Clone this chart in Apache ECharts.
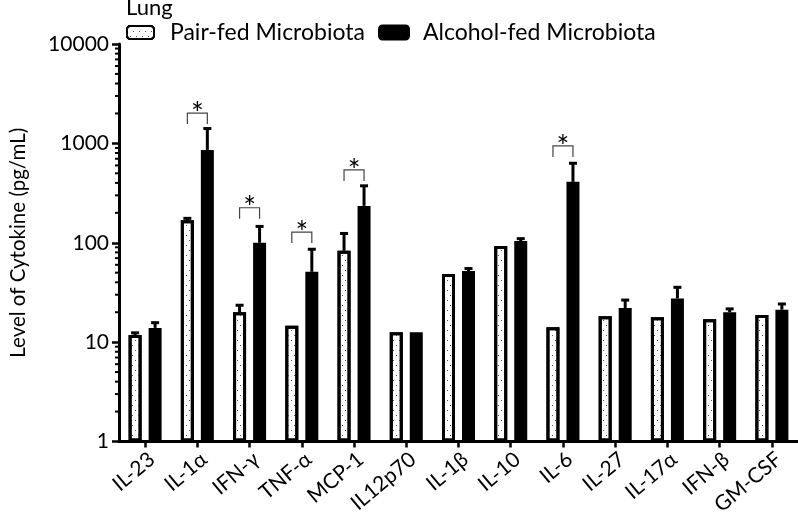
<!DOCTYPE html>
<html>
<head>
<meta charset="utf-8">
<script src="https://cdn.jsdelivr.net/npm/echarts@6/dist/echarts.min.js"></script>
<style>
html,body{margin:0;padding:0;background:#fff;}
#chart{width:798px;height:520px;}
</style>
</head>
<body>
<div id="chart"></div>
<script>
// ---- data ----
var categories = ['IL-23','IL-1\u03B1','IFN-\u03B3','TNF-\u03B1','MCP-1','IL12p70','IL-1\u03B2','IL-10','IL-6','IL-27','IL-17\u03B1','IFN-\u03B2','GM-CSF'];
var pairFed      = [11.8, 168, 20, 14.6, 83, 12.6, 48.5, 93, 14.1, 18.2, 17.8, 17, 18.8];
var pairFedErr   = [12.4, 176, 23.5, 14.6, 124, 12.6, 48.5, 93, 14.1, 18.2, 17.8, 17, 18.8];
var alcoholFed   = [13.9, 860, 100, 51, 235, 12.6, 52, 104, 410, 22, 27.5, 20, 21.2];
var alcoholFedErr= [15.7, 1410, 146, 86, 374, 12.6, 55, 110, 631, 26.5, 35.6, 21.6, 24.2];
// significance brackets: category index and bracket height (pg/mL)
var sigIndex  = [1, 2, 3, 4, 8];
var sigHeight = [2018, 225, 128, 541, 942];
var yTickValues = [1, 10, 100, 1000, 10000];
var yMinorTicks = [2,3,4,5,6,7,8,9,20,30,40,50,60,70,80,90,200,300,400,500,600,700,800,900,2000,3000,4000,5000,6000,7000,8000,9000];

var FONT = 'Lato';
var BAR_OFFSET = 10;

var chart = echarts.init(document.getElementById('chart'), null, {renderer: 'canvas'});

function errData(vals, errs) {
  return vals.map(function (v, i) { return [i, v, errs[i]]; });
}

function errRender(offset) {
  return function (params, api) {
    var idx = api.value(0), base = api.value(1), top = api.value(2);
    if (!(top > base)) return null;
    var p1 = api.coord([idx, base]);
    var p2 = api.coord([idx, top]);
    var x = p1[0] + offset;
    return {
      type: 'group',
      children: [
        {type: 'line', shape: {x1: x, y1: p1[1], x2: x, y2: p2[1]}, style: {stroke: '#000', lineWidth: 3}},
        {type: 'line', shape: {x1: x - 4, y1: p2[1], x2: x + 4, y2: p2[1]}, style: {stroke: '#000', lineWidth: 3}}
      ]
    };
  };
}

var option = {
  backgroundColor: '#fff',
  animation: false,
  title: {
    text: 'Lung', left: 126, top: -3, padding: 0,
    textStyle: {fontFamily: FONT, fontSize: 22, fontWeight: 'normal', color: '#000'}
  },
  legend: [
    {
      data: ['Pair-fed Microbiota'], left: 126, top: 21, padding: 0,
      itemWidth: 27, itemHeight: 13,
      textStyle: {fontFamily: FONT, fontSize: 23, color: '#000', padding: [4, 0, 0, 11]}
    },
    {
      data: ['Alcohol-fed Microbiota'], left: 378, top: 21, padding: 0,
      itemWidth: 30, itemHeight: 14,
      textStyle: {fontFamily: FONT, fontSize: 23, color: '#000', padding: [4, 0, 0, 9]}
    }
  ],
  grid: {left: 113, right: 0, top: 44, bottom: 78.5, containLabel: false},
  xAxis: {
    type: 'category',
    data: categories,
    axisLine: {lineStyle: {color: '#000', width: 3}},
    axisTick: {show: true, alignWithLabel: true, interval: 0, length: 6, lineStyle: {color: '#000', width: 2.5}},
    axisLabel: {interval: 0, rotate: 40, margin: 7, verticalAlign: 'top', fontFamily: FONT, fontSize: 21, color: '#000'},
    splitLine: {show: false}
  },
  yAxis: {
    type: 'log', logBase: 10, min: 1, max: 10000, splitNumber: 4,
    name: 'Level of Cytokine (pg/mL)', nameLocation: 'middle', nameGap: 90, nameRotate: 90,
    nameTextStyle: {fontFamily: FONT, fontSize: 20.5, color: '#000'},
    axisLine: {show: true, lineStyle: {color: '#000', width: 3}},
    axisTick: {show: true, length: 7, lineStyle: {color: '#000', width: 2.5}},
    axisLabel: {margin: 10, fontFamily: FONT, fontSize: 21, color: '#000',
      formatter: function (v) { return String(Math.round(v)); }},
    splitLine: {show: false}
  },
  series: [
    {
      name: 'Pair-fed Microbiota', type: 'bar', data: pairFed,
      barWidth: 13, barGap: '54%',
      itemStyle: {
        color: '#fff', borderColor: '#000', borderWidth: 3,
        decal: {symbol: 'rect', symbolSize: 1, color: '#555',
          dashArrayX: [[1, 5], [0, 3, 1, 2]], dashArrayY: [1, 4], rotation: 0}
      }
    },
    {
      name: 'Alcohol-fed Microbiota', type: 'bar', data: alcoholFed,
      barWidth: 13, barGap: '54%',
      itemStyle: {color: '#000', borderColor: '#000', borderWidth: 3}
    },
    {
      type: 'custom', name: 'pairErr', data: errData(pairFed, pairFedErr),
      encode: {x: 0, y: [1, 2]}, renderItem: errRender(-BAR_OFFSET), z: 3, silent: true
    },
    {
      type: 'custom', name: 'alcErr', data: errData(alcoholFed, alcoholFedErr),
      encode: {x: 0, y: [1, 2]}, renderItem: errRender(BAR_OFFSET), z: 3, silent: true
    },
    {
      type: 'custom', name: 'sig',
      data: sigIndex.map(function (c, i) { return [c, sigHeight[i]]; }),
      encode: {x: 0, y: 1}, z: 4, silent: true,
      renderItem: function (params, api) {
        var p = api.coord([api.value(0), api.value(1)]);
        var xl = p[0] - BAR_OFFSET, xr = p[0] + BAR_OFFSET, y = p[1];
        return {
          type: 'group',
          children: [
            {type: 'polyline', shape: {points: [[xl, y + 11], [xl, y], [xr, y], [xr, y + 11]]},
              style: {stroke: '#444', lineWidth: 1.2, fill: null}},
            {type: 'text', x: p[0], y: y + 1,
              style: {text: '*', fontFamily: FONT, fontSize: 30, fill: '#000', align: 'center', verticalAlign: 'middle'}}
          ]
        };
      }
    },
    {
      type: 'custom', name: 'minorTicks',
      data: yMinorTicks.map(function (v) { return [0, v]; }),
      encode: {x: 0, y: 1}, z: 5, silent: true, clip: false,
      renderItem: function (params, api) {
        var p = api.coord([0, api.value(1)]);
        var x0 = params.coordSys.x;
        return {type: 'line', shape: {x1: x0 - 4, y1: p[1], x2: x0, y2: p[1]},
          style: {stroke: '#000', lineWidth: 2}};
      }
    }
  ]
};
chart.setOption(option);
</script>
</body>
</html>
